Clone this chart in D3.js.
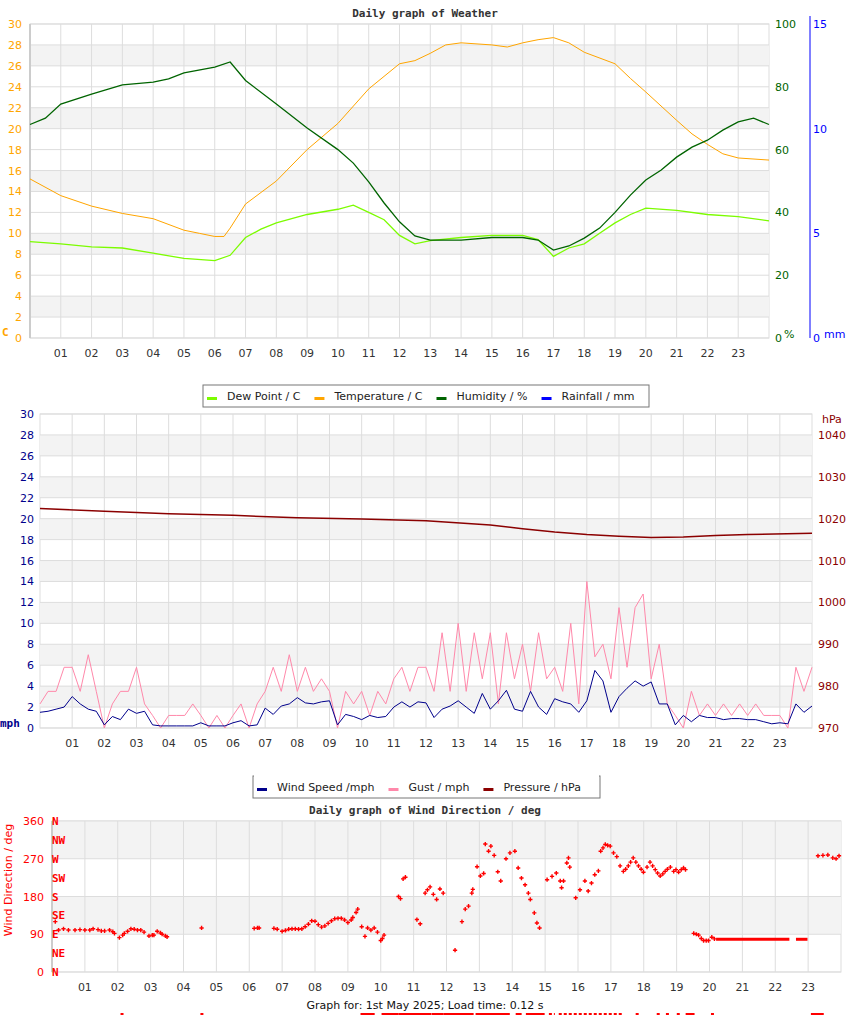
<!DOCTYPE html>
<html><head><meta charset="utf-8">
<script src="https://cdn.jsdelivr.net/npm/d3@7"></script>
<style>body{margin:0;background:#fff}svg{display:block}text{font-size:11px}</style>
</head><body>
<svg id="c" width="850" height="1017" font-family="DejaVu Sans, sans-serif"></svg>
<script>
// ---------- DATA ----------
const hourLabels = ["01","02","03","04","05","06","07","08","09","10","11","12","13","14","15","16","17","18","19","20","21","22","23"];
// Chart 1: [hour, value]
const temperature = [[0,15.2],[1,13.6],[2,12.6],[3,11.9],[4,11.4],[5,10.3],[5.5,10.0],[6,9.7],[6.3,9.7],[6.5,10.5],[7,12.8],[8,15.0],[9,18.0],[10,20.5],[11,23.8],[12,26.2],[12.5,26.5],[13,27.2],[13.5,28.0],[14,28.2],[15,28.0],[15.5,27.8],[16,28.2],[16.5,28.5],[17,28.7],[17.5,28.2],[18,27.3],[19,26.2],[19.5,24.8],[20,23.5],[21,20.8],[21.5,19.5],[22,18.5],[22.5,17.6],[23,17.2],[24,17.0]];
const dewPoint = [[0,9.2],[1,9.0],[2,8.7],[3,8.6],[4,8.1],[5,7.6],[6,7.4],[6.5,7.9],[7,9.6],[7.5,10.4],[8,11.0],[9,11.8],[10,12.3],[10.5,12.7],[11,12.0],[11.5,11.3],[12,9.8],[12.5,9.0],[13,9.3],[14,9.6],[15,9.8],[16,9.8],[16.5,9.4],[17,7.8],[17.5,8.6],[18,9.0],[18.5,10.0],[19,11.0],[19.5,11.8],[20,12.4],[21,12.2],[22,11.8],[23,11.6],[24,11.2]];
const humidity = [[0,68],[0.5,70],[1,74.5],[2,77.7],[3,80.6],[4,81.5],[4.5,82.5],[5,84.4],[6,86.3],[6.5,87.9],[7,82],[8,74.5],[9,66.9],[10,60],[10.5,55.7],[11,49.7],[11.5,43],[12,37],[12.5,32.5],[13,31.2],[14,31.2],[15,32],[16,32],[16.5,31.2],[17,28],[17.5,29.3],[18,31.8],[18.5,35],[19,40],[19.5,45.5],[20,50.3],[20.5,53.5],[21,57.6],[21.5,60.8],[22,63],[22.5,66.2],[23,68.8],[23.5,70],[24,68]];
const rainfall = [[0,0],[24,0]];
const tempTicks = d3.range(0,31,2), humTicks=[0,20,40,60,80,100], rainTicks=[0,5,10,15];
// Chart 2: values every 0.25 h
const windSpeed = [1.5,1.6,1.8,2.0,3.0,2.3,1.8,1.6,0.3,1.1,0.8,1.8,1.4,1.6,0.3,0.2,0.2,0.2,0.2,0.2,0.5,0.2,0.2,0.2,0.5,0.7,0.2,0.3,1.9,1.3,2.1,2.3,2.9,2.4,2.3,2.5,2.6,0.3,1.3,1.1,0.8,1.2,1.0,1.1,2.0,2.5,2.0,2.5,
 2.4,1.0,1.8,2.1,2.6,2.0,1.4,3.3,1.8,2.6,3.6,1.8,1.6,3.5,2.0,1.3,2.8,2.5,2.3,1.5,2.6,5.5,4.5,1.5,3.0,3.8,4.5,4.0,4.4,2.3,2.3,0.3,1.2,0.6,1.2,1.0,1.0,0.8,0.9,0.9,0.8,0.8,0.6,0.4,0.5,0.4,2.3,1.5,2.1];
const gust = [2.3,3.5,3.5,5.8,5.8,3.5,7.0,3.5,0,2.3,3.5,3.5,5.8,2.3,1.2,0,1.2,1.2,1.2,2.3,1.2,0,1.2,0,1.2,2.3,0,2.3,3.5,5.8,3.5,7.0,3.5,5.8,3.5,4.7,3.5,0,3.5,2.3,3.5,1.2,3.5,2.3,4.7,5.8,3.5,5.8,
 5.8,3.5,9.1,3.5,10.0,3.5,9.1,4.7,9.1,2.3,9.1,4.7,8.0,3.5,9.1,4.7,5.8,3.5,10.0,2.3,14.0,6.8,8.0,4.7,11.5,5.8,11.5,12.8,4.7,8.0,2.3,1.2,0,3.5,1.2,2.3,1.2,2.3,1.2,2.3,1.2,2.3,1.2,1.2,1.2,0,5.8,3.5,5.8];
const pressure = [[0,1022.4],[2,1021.8],[4,1021.2],[6,1020.8],[8,1020.2],[10,1019.9],[12,1019.5],[14,1018.5],[15,1017.6],[16,1016.8],[17,1016.2],[18,1015.8],[19,1015.5],[20,1015.6],[21,1016],[22,1016.2],[24,1016.5]];
const speedTicks = d3.range(0,31,2), pressTicks=[970,980,990,1000,1010,1020,1030,1040];
// Chart 3: [hour, degrees]
const direction = [[0.1,120],[0.2,100],[0.35,103],[0.5,100],[0.7,100],[0.85,101],[1.0,100],[1.15,100],[1.25,103],[1.4,101],[1.5,98],[1.6,98],[1.75,100],[1.85,96],[1.9,92],
 [2.05,82],[2.15,88],[2.2,92],[2.3,97],[2.4,103],[2.5,102],[2.6,100],[2.7,100],[2.8,95],[2.95,86],[3.05,88],[3.1,88],[3.2,97],[3.3,93],[3.35,90],[3.45,86],[3.5,84],
 [4.55,105],[6.15,104],[6.25,105],[6.3,105],
 [6.75,104],[6.85,102],[7.0,97],[7.1,99],[7.2,102],[7.3,103],[7.4,103],[7.5,102],[7.6,103],[7.7,108],[7.8,114],[7.9,122],[8.0,121],[8.1,113],[8.2,107],[8.3,110],[8.4,116],[8.5,122],[8.6,127],[8.7,128],[8.8,128],[8.9,124],[9.0,118],[9.1,124],[9.15,130],[9.25,142],[9.3,150],
 [9.42,108],[9.52,85],[9.6,105],[9.7,100],[9.8,105],[9.9,95],[10.0,75],[10.05,80],[10.1,88],
 [10.54,180],[10.6,175],[10.68,222],[10.75,226],[11.1,125],[11.2,115],
 [11.35,188],[11.42,196],[11.5,203],[11.6,185],[11.7,173],[11.8,198],[11.9,188],
 [12.26,52],[12.47,120],[12.57,150],[12.67,157],[12.77,188],[12.8,197],
 [12.93,251],[13.03,229],[13.13,235],[13.18,305],[13.28,288],[13.35,300],[13.45,278],[13.56,239],[13.65,217],
 [13.81,270],[13.93,284],[14.08,288],[14.18,248],[14.28,224],[14.39,208],[14.49,188],[14.55,173],[14.67,141],[14.75,117],[14.83,105],
 [15.06,220],[15.21,228],[15.34,236],[15.46,217],[15.5,201],[15.56,217],[15.66,260],[15.71,272],[15.75,250],
 [15.93,177],[16.06,196],[16.21,217],[16.31,193],[16.41,212],[16.51,232],[16.62,241],
 [16.69,288],[16.76,296],[16.83,304],[16.9,302],[16.98,300],[17.08,284],[17.18,275],[17.28,253],[17.38,240],[17.45,245],[17.53,253],[17.6,262],[17.68,272],[17.76,262],[17.84,253],[17.92,245],[17.99,238],[18.1,250],[18.19,262],[18.27,253],[18.35,244],[18.42,236],[18.5,229],[18.58,234],[18.65,240],[18.72,245],[18.81,250],[18.91,240],[18.98,244],[19.06,238],[19.14,244],[19.21,248],[19.27,244],
 [19.52,92],[19.6,90],[19.67,88],[19.75,80],[19.82,75],[19.9,75],[19.97,75],[20.07,83],[20.15,79],
 [23.3,277],[23.45,278],[23.6,279],[23.75,272],[23.85,270],[23.94,277]];
const calmRuns = [[20.2,22.43,78],[22.63,22.98,78]];
const noDirMarks = [[2.13,2.13],[4.56,4.56],[9.43,9.77],[10.07,10.5],[10.59,11.5],[11.6,11.87],[11.96,12.78],[12.93,13.88],[14.15,14.24],[14.46,14.94],[15.16,15.25],[15.46,17.29],[17.8,17.8],[18.44,18.44],[18.72,18.72],[19.05,19.05],[19.32,19.5],[20.09,20.09],[23.13,23.43]];
const dirTicks=[0,90,180,270,360];
const compass=["N","NE","E","SE","S","SW","W","NW","N"];

// ---------- DRAW ----------
const svg=d3.select("#c");
const mono='DejaVu Sans Mono, monospace';
function frame(x0,x1,y0,y1){
  svg.append("rect").attr("x",x0).attr("y",y0).attr("width",x1-x0).attr("height",y1-y0).attr("fill","#fff").attr("stroke","#ddd");
}
function hgrid(g,ys,x0,x1){ys.forEach(y=>g.append("line").attr("x1",x0).attr("x2",x1).attr("y1",y).attr("y2",y).attr("stroke","#ddd"));}
function vgrid(g,xs,y0,y1){xs.forEach(x=>g.append("line").attr("x1",x).attr("x2",x).attr("y1",y0).attr("y2",y1).attr("stroke","#ddd"));}
function hourAxis(x,y){hourLabels.forEach((l,i)=>svg.append("text").attr("x",x(i+1)).attr("y",y).attr("text-anchor","middle").attr("fill","#333").text(l));}

// Chart 1
{
 const x=d3.scaleLinear().domain([0,24]).range([30,769]);
 const yT=d3.scaleLinear().domain([0,30]).range([338,24]);
 const yH=d3.scaleLinear().domain([0,100]).range([338,24]);
 const yR=d3.scaleLinear().domain([0,15]).range([338,24]);
 svg.append("text").attr("x",425).attr("y",17).attr("text-anchor","middle").attr("font-family",mono).attr("font-weight","bold").attr("fill","#333").text("Daily graph of Weather");
 frame(30,769,24,338);
 const g=svg.append("g");
 [2,8,14,20,26].forEach(v=>g.append("rect").attr("x",30).attr("width",739).attr("y",yT(v+2)).attr("height",yT(v)-yT(v+2)).attr("fill","#f3f3f3"));
 hgrid(g,tempTicks.map(yT),30,769);
 vgrid(g,d3.range(1,24).map(x),24,338);
 svg.append("line").attr("x1",30).attr("x2",30).attr("y1",24).attr("y2",338).attr("stroke","#ccc").attr("stroke-width",2);
 tempTicks.forEach(t=>svg.append("text").attr("x",22).attr("y",yT(t)+4).attr("text-anchor","end").attr("fill","#ffa500").text(t));
 humTicks.forEach(t=>svg.append("text").attr("x",775).attr("y",yH(t)+4).attr("fill","#006400").text(t));
 rainTicks.forEach(t=>svg.append("text").attr("x",813).attr("y",yR(t)+4).attr("fill","#0000ff").text(t));
 svg.append("line").attr("x1",810).attr("x2",810).attr("y1",16).attr("y2",338).attr("stroke","#0000ff");
 svg.append("text").attr("x",2).attr("y",336).attr("fill","#ffa500").attr("font-weight","bold").attr("font-family",mono).text("C");
 svg.append("text").attr("x",784).attr("y",338).attr("fill","#006400").text("%");
 svg.append("text").attr("x",824).attr("y",338).attr("fill","#0000ff").text("mm");
 hourAxis(x,357);
 const lineT=d3.line().x(d=>x(d[0])).y(d=>yT(d[1]));
 svg.append("path").datum(rainfall).attr("d",d3.line().x(d=>x(d[0])).y(d=>yR(d[1])-1)).attr("fill","none").attr("stroke","#0000ff").attr("stroke-opacity",0);
 svg.append("path").datum(temperature).attr("d",lineT).attr("fill","none").attr("stroke","#ffa500");
 svg.append("path").datum(dewPoint).attr("d",lineT).attr("fill","none").attr("stroke","#7cfc00").attr("stroke-width",1.3);
 svg.append("path").datum(humidity).attr("d",d3.line().x(d=>x(d[0])).y(d=>yH(d[1]))).attr("fill","none").attr("stroke","#006400").attr("stroke-width",1.3);
}
function legend(x0,y0,w,items,noTop){
 const g=svg.append("g");
 g.append("rect").attr("x",x0).attr("y",y0).attr("width",w).attr("height",22).attr("fill","#fff").attr("stroke","#777");
 if(noTop) g.append("line").attr("x1",x0+1).attr("x2",x0+w-1).attr("y1",y0).attr("y2",y0).attr("stroke","#fff").attr("stroke-width",2);
 let cx=x0+4;
 items.forEach(([c,l])=>{g.append("rect").attr("x",cx).attr("y",y0+12).attr("width",10).attr("height",3).attr("fill",c);
  const t=g.append("text").attr("x",cx+20).attr("y",y0+15).attr("fill","#222").text(l);
  cx+=20+t.node().getComputedTextLength()+14;});
}
legend(203,385,446,[["#7cfc00","Dew Point / C"],["#ffa500","Temperature / C"],["#006400","Humidity / %"],["#0000ff","Rainfall / mm"]]);

// Chart 2
{
 const x=d3.scaleLinear().domain([0,24]).range([40,812]);
 const y=d3.scaleLinear().domain([0,30]).range([728,414]);
 const yP=d3.scaleLinear().domain([970,1045]).range([728,414]);
 frame(40,812,414,728);
 const g=svg.append("g");
 d3.range(2,30,4).forEach(v=>g.append("rect").attr("x",40).attr("width",772).attr("y",y(v+2)).attr("height",y(v)-y(v+2)).attr("fill","#f3f3f3"));
 hgrid(g,speedTicks.map(y),40,812);
 vgrid(g,d3.range(1,24).map(x),414,728);
 speedTicks.forEach(t=>svg.append("text").attr("x",34).attr("y",y(t)+4).attr("text-anchor","end").attr("fill","#00008b").text(t));
 pressTicks.forEach(t=>svg.append("text").attr("x",818).attr("y",yP(t)+4).attr("fill","#8b0000").text(t));
 svg.append("text").attr("x",822).attr("y",423).attr("fill","#8b0000").text("hPa");
 svg.append("text").attr("x",0).attr("y",727).attr("fill","#00008b").attr("font-weight","bold").attr("font-family",mono).text("mph");
 hourAxis(x,747);
 svg.append("path").datum(gust).attr("d",d3.line().x((d,i)=>x(i*0.25)).y(d=>y(d))).attr("fill","none").attr("stroke","#ff88aa");
 svg.append("path").datum(windSpeed).attr("d",d3.line().x((d,i)=>x(i*0.25)).y(d=>y(d))).attr("fill","none").attr("stroke","#00008b");
 svg.append("path").datum(pressure).attr("d",d3.line().x(d=>x(d[0])).y(d=>yP(d[1]))).attr("fill","none").attr("stroke","#8b0000").attr("stroke-width",1.5);
}
legend(253,776,347,[["#00008b","Wind Speed /mph"],["#ff88aa","Gust / mph"],["#8b0000","Pressure / hPa"]],true);

// Chart 3
{
 const x=d3.scaleLinear().domain([0,24]).range([52,841]);
 const y=d3.scaleLinear().domain([0,360]).range([972,821]);
 svg.append("text").attr("x",425).attr("y",814).attr("text-anchor","middle").attr("font-family",mono).attr("font-weight","bold").attr("fill","#333").text("Daily graph of Wind Direction / deg");
 frame(52,841,821,972);
 const g=svg.append("g");
 [90,270].forEach(v=>g.append("rect").attr("x",52).attr("width",789).attr("y",y(v+90)).attr("height",y(v)-y(v+90)).attr("fill","#f3f3f3"));
 hgrid(g,dirTicks.map(y),52,841);
 vgrid(g,d3.range(1,24).map(x),821,972);
 svg.append("line").attr("x1",52).attr("x2",52).attr("y1",821).attr("y2",972).attr("stroke","#ccc").attr("stroke-width",2);
 dirTicks.forEach(t=>svg.append("text").attr("x",44).attr("y",y(t)+4).attr("text-anchor","end").attr("fill","#ff0000").text(t));
 compass.forEach((c,i)=>svg.append("text").attr("x",52).attr("y",y(i*45)+4).attr("fill","#ff0000").attr("font-weight","bold").attr("font-family",mono).text(c));
 svg.append("text").attr("transform","translate(12,880) rotate(-90)").attr("text-anchor","middle").attr("fill","#ff0000").text("Wind Direction / deg");
 hourAxis(x,991);
 const plus=d3.symbol().type(d3.symbolCross).size(10);
 svg.selectAll(".d").data(direction).join("path").attr("d",plus).attr("transform",d=>`translate(${x(d[0])},${y(d[1])})`).attr("fill","#ff0000");
 calmRuns.forEach(r=>svg.append("line").attr("x1",x(r[0])).attr("x2",x(r[1])).attr("y1",y(r[2])).attr("y2",y(r[2])).attr("stroke","#ff0000").attr("stroke-width",3));
 noDirMarks.forEach(r=>svg.append("line").attr("x1",x(r[0])-1.5).attr("x2",x(r[1])+1.5).attr("y1",1014).attr("y2",1014).attr("stroke","#ff0000").attr("stroke-width",2).attr("stroke-dasharray",r[0]>15&&r[0]<16?"3,2":null));
 svg.append("text").attr("x",425).attr("y",1009).attr("text-anchor","middle").attr("fill","#111").text("Graph for: 1st May 2025; Load time: 0.12 s");
}
</script>
</body></html>
